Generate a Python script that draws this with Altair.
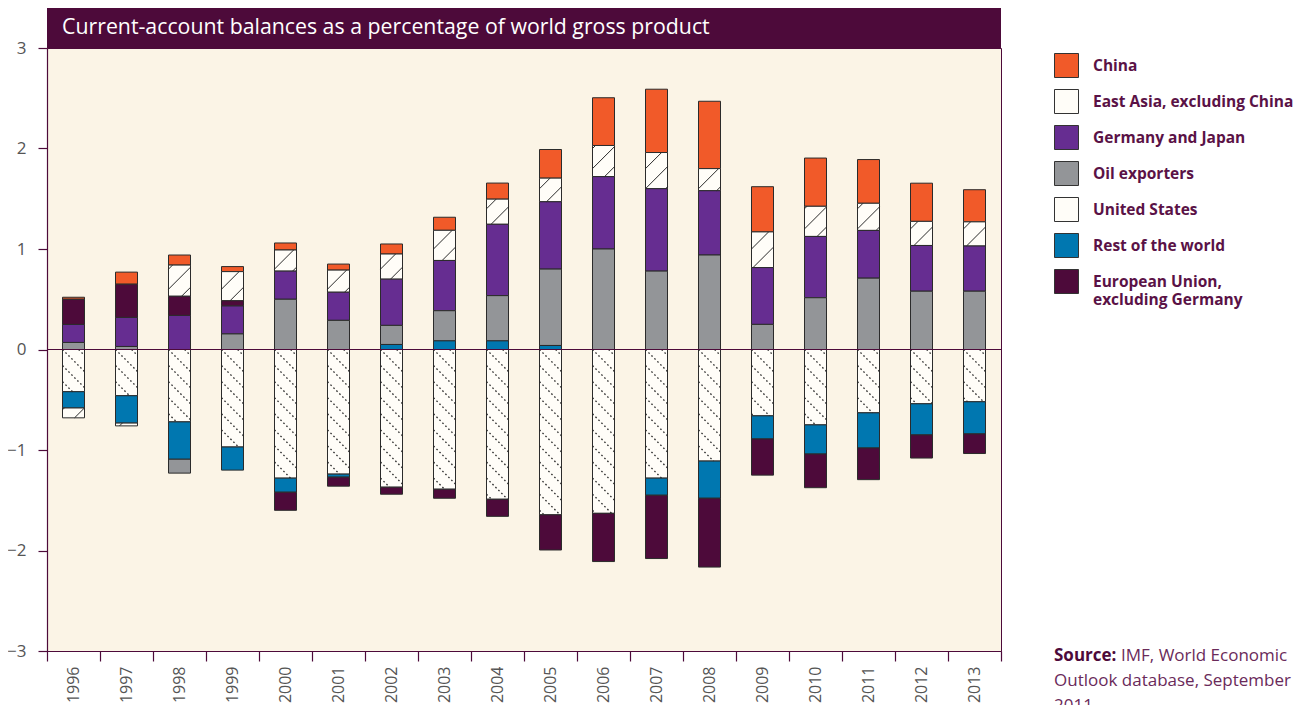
import altair as alt
import pandas as pd

# ---------------- data ----------------
years = list(range(1996, 2014))
series_names = [
    "China",
    "East Asia, excluding China",
    "Germany and Japan",
    "Oil exporters",
    "United States",
    "Rest of the world",
    "European Union, excluding Germany",
]
legend_first_lines = [
    "China",
    "East Asia, excluding China",
    "Germany and Japan",
    "Oil exporters",
    "United States",
    "Rest of the world",
    "European Union,",
]
legend_second_line = "excluding Germany"
series_colors = ["#f15a29", "#fffdf8", "#662d91", "#939598", "#fffdf8", "#0077b0", "#4d0a3a"]
stack_order = [
    "United States",
    "Rest of the world",
    "Oil exporters",
    "Germany and Japan",
    "European Union, excluding Germany",
    "East Asia, excluding China",
    "China",
]

china = [0.02, 0.12, 0.10, 0.05, 0.07, 0.06, 0.10, 0.13, 0.16, 0.285, 0.475, 0.63, 0.67, 0.45, 0.48, 0.435, 0.38, 0.32]
east_asia = [-0.10, -0.03, 0.31, 0.29, 0.21, 0.22, 0.25, 0.30, 0.25, 0.235, 0.31, 0.36, 0.22, 0.355, 0.30, 0.27, 0.24, 0.24]
germany_japan = [0.18, 0.29, 0.34, 0.28, 0.28, 0.28, 0.46, 0.50, 0.71, 0.67, 0.72, 0.82, 0.64, 0.565, 0.61, 0.475, 0.455, 0.45]
oil = [0.07, 0.03, -0.14, 0.155, 0.50, 0.29, 0.19, 0.30, 0.45, 0.76, 1.00, 0.78, 0.94, 0.25, 0.515, 0.71, 0.58, 0.58]
united_states = [-0.42, -0.46, -0.72, -0.97, -1.28, -1.24, -1.37, -1.39, -1.49, -1.645, -1.63, -1.28, -1.11, -0.66, -0.75, -0.63, -0.54, -0.52]
rest_world = [-0.16, -0.27, -0.37, -0.23, -0.14, -0.03, 0.05, 0.086, 0.086, 0.04, 0.0, -0.17, -0.37, -0.23, -0.29, -0.35, -0.31, -0.32]
eu = [0.25, 0.33, 0.19, 0.05, -0.18, -0.09, -0.07, -0.09, -0.17, -0.35, -0.48, -0.63, -0.685, -0.36, -0.335, -0.315, -0.23, -0.195]

y_ticks = [-3, -2, -1, 0, 1, 2, 3]
title_text = "Current-account balances as a percentage of world gross product"
source_bold = "Source:"
source_rest = "IMF, World Economic"
source_lines = ["Outlook database, September", "2011"]

all_values = [china, east_asia, germany_japan, oil, united_states, rest_world, eu]
rows = []
for name, vals in zip(series_names, all_values):
    for yr, v in zip(years, vals):
        rows.append({"year": yr, "series": name, "value": v})
df = pd.DataFrame(rows)

# ---------------- layout / style ----------------
W, H = 954, 603
MAROON = "#4d0a3a"
LABEL = "#5a1246"
FONT = "Open Sans"
BAR_PX = 22
NB = len(years)
S = (W / NB) / (H / 6.0)        # data-y per data-x for 45 degree lines
WD = BAR_PX / (W / NB)          # bar width in x-index units

order_list = "[" + ",".join("'" + s + "'" for s in stack_order) + "]"
label_map = "{" + ",".join("'" + a + "':'" + b + "'" for a, b in zip(series_names, legend_first_lines)) + "}"

base = alt.Chart(df).transform_calculate(
    ord=f"indexof({order_list}, datum.series)"
).transform_stack(
    stack="value",
    groupby=["year"],
    sort=[alt.SortField("ord", order="ascending")],
    as_=["v0", "v1"],
    offset="zero",
)

yscale = alt.Scale(domain=[-3, 3], nice=False, zero=False)

bars = base.mark_bar(width=BAR_PX, stroke="#2b2b2b", strokeWidth=1).encode(
    x=alt.X(
        "year:O",
        scale=alt.Scale(paddingInner=0, paddingOuter=0),
        axis=alt.Axis(
            title=None, labelAngle=-90, tickBand="extent", tickSize=10, labelPadding=5,
            labelFontSize=16, labelColor="#555555", labelFont=FONT, tickColor=MAROON,
            domainColor=MAROON, domainWidth=1.2, tickWidth=1.2,
        ),
    ),
    y=alt.Y(
        "v0:Q",
        scale=yscale,
        axis=alt.Axis(
            title=None, values=y_ticks, format="d", grid=False, tickSize=9, labelPadding=12,
            labelFontSize=17, labelColor="#555555", labelFont=FONT, tickColor=MAROON,
            domainColor=MAROON, domainWidth=1.2, tickWidth=1.2,
        ),
    ),
    y2="v1:Q",
    color=alt.Color(
        "series:N",
        scale=alt.Scale(domain=series_names, range=series_colors),
        legend=alt.Legend(
            title=None, orient="none", legendX=1007, legendY=5,
            symbolType="square", symbolSize=576, symbolStrokeColor="#333333",
            symbolStrokeWidth=1, symbolOpacity=1,
            labelFont=FONT, labelFontWeight="bold", labelFontSize=15.5, labelColor=LABEL,
            labelOffset=14, rowPadding=7, labelLimit=400,
            labelExpr=f"{label_map}[datum.label]",
        ),
    ),
)


def hatch(name, direction, spacing, dash, width):
    d = direction
    ch = base.transform_filter(alt.datum.series == name).transform_calculate(
        lo="min(datum.v0, datum.v1)",
        hi="max(datum.v0, datum.v1)",
    ).transform_calculate(
        cmin=f"datum.lo - ({d} > 0 ? {S * WD} : 0)",
        cmax=f"datum.hi + ({d} < 0 ? {S * WD} : 0)",
    ).transform_calculate(
        cstart=f"floor(datum.cmin / {spacing}) * {spacing}",
    ).transform_calculate(
        ks=f"sequence(0, ceil((datum.cmax - datum.cstart) / {spacing}) + 1)",
    ).transform_flatten(["ks"], as_=["k"]).transform_calculate(
        c=f"datum.cstart + datum.k * {spacing}",
    ).transform_calculate(
        ta=f"{d} > 0 ? (datum.lo - datum.c) / {S} : (datum.c - datum.hi) / {S}",
        tb=f"{d} > 0 ? (datum.hi - datum.c) / {S} : (datum.c - datum.lo) / {S}",
    ).transform_calculate(
        t0="max(0, datum.ta)",
        t1=f"min({WD}, datum.tb)",
        xl=f"datum.year - {years[0]} - {WD / 2}",
    ).transform_filter("datum.t1 - datum.t0 > 0.02").transform_calculate(
        xs="datum.xl + datum.t0",
        xe="datum.xl + datum.t1",
        ys=f"datum.c + {d} * {S} * datum.t0",
        ye=f"datum.c + {d} * {S} * datum.t1",
    )
    props = dict(color="#2a2a2a", strokeWidth=width)
    if dash:
        props["strokeDash"] = dash
    return ch.mark_rule(**props).encode(
        x=alt.X("xs:Q", scale=alt.Scale(domain=[-0.5, NB - 0.5], nice=False, zero=False), axis=None),
        x2="xe:Q",
        y=alt.Y("ys:Q", title=None),
        y2="ye:Q",
    )


hatch_us = hatch("United States", -1, 0.16, [1.6, 2.6], 1.3)
hatch_ea = hatch("East Asia, excluding China", 1, 0.2, None, 1)

zero = alt.Chart(pd.DataFrame({"z": [0]})).mark_rule(color=MAROON, strokeWidth=1.2).encode(
    y=alt.Y("z:Q", title=None)
)

# decorative hatch strokes inside the East Asia legend swatch
sw_df = pd.DataFrame({"k": [0]})
sw1 = alt.Chart(sw_df).mark_rule(color="#2a2a2a", strokeWidth=1).encode(
    x=alt.value(1008), x2=alt.value(1024), y=alt.value(58), y2=alt.value(42)
)
sw2 = alt.Chart(sw_df).mark_rule(color="#2a2a2a", strokeWidth=1).encode(
    x=alt.value(1015), x2=alt.value(1030), y=alt.value(64), y2=alt.value(49)
)

title_df = pd.DataFrame({"t": [title_text]})
title_bar = alt.Chart(title_df).mark_rect(color=MAROON).encode(
    x=alt.value(0), x2=alt.value(W), y=alt.value(-40), y2=alt.value(0)
)
title_txt = alt.Chart(title_df).mark_text(
    align="left", baseline="middle", color="white", fontSize=21.3, font=FONT
).encode(x=alt.value(15), y=alt.value(-20), text="t:N")

leg2_df = pd.DataFrame({"t": [legend_second_line]})
legend_line2 = alt.Chart(leg2_df).mark_text(
    align="left", baseline="middle", color=LABEL, fontSize=15.5, font=FONT, fontWeight="bold"
).encode(x=alt.value(1046), y=alt.value(252), text="t:N")

src_df = pd.DataFrame({"a": [source_bold], "b": [source_rest], "c": [source_lines]})
src1 = alt.Chart(src_df).mark_text(
    align="left", baseline="alphabetic", color=MAROON, fontSize=17, font=FONT, fontWeight="bold"
).encode(x=alt.value(1007), y=alt.value(613), text="a:N")
src2 = alt.Chart(src_df).mark_text(
    align="left", baseline="alphabetic", color="#6a2a5a", fontSize=17, font=FONT
).encode(x=alt.value(1074), y=alt.value(613), text="b:N")
src3 = alt.Chart(src_df).mark_text(
    align="left", baseline="alphabetic", color="#6a2a5a", fontSize=17, font=FONT, lineHeight=25
).encode(x=alt.value(1007), y=alt.value(638), text="c")

chart = alt.layer(
    title_bar, title_txt, bars, hatch_us, hatch_ea, zero, sw1, sw2, legend_line2, src1, src2, src3
).resolve_scale(
    x="independent"
).properties(
    width=W, height=H,
    autosize=alt.AutoSizeParams(type="none"),
    padding={"left": 39, "top": 40, "right": 303, "bottom": 54},
).configure_view(
    fill="#fbf4e6", stroke=MAROON, strokeWidth=1
)

chart.save("out.html", embed_options={"renderer": "svg", "actions": False})
